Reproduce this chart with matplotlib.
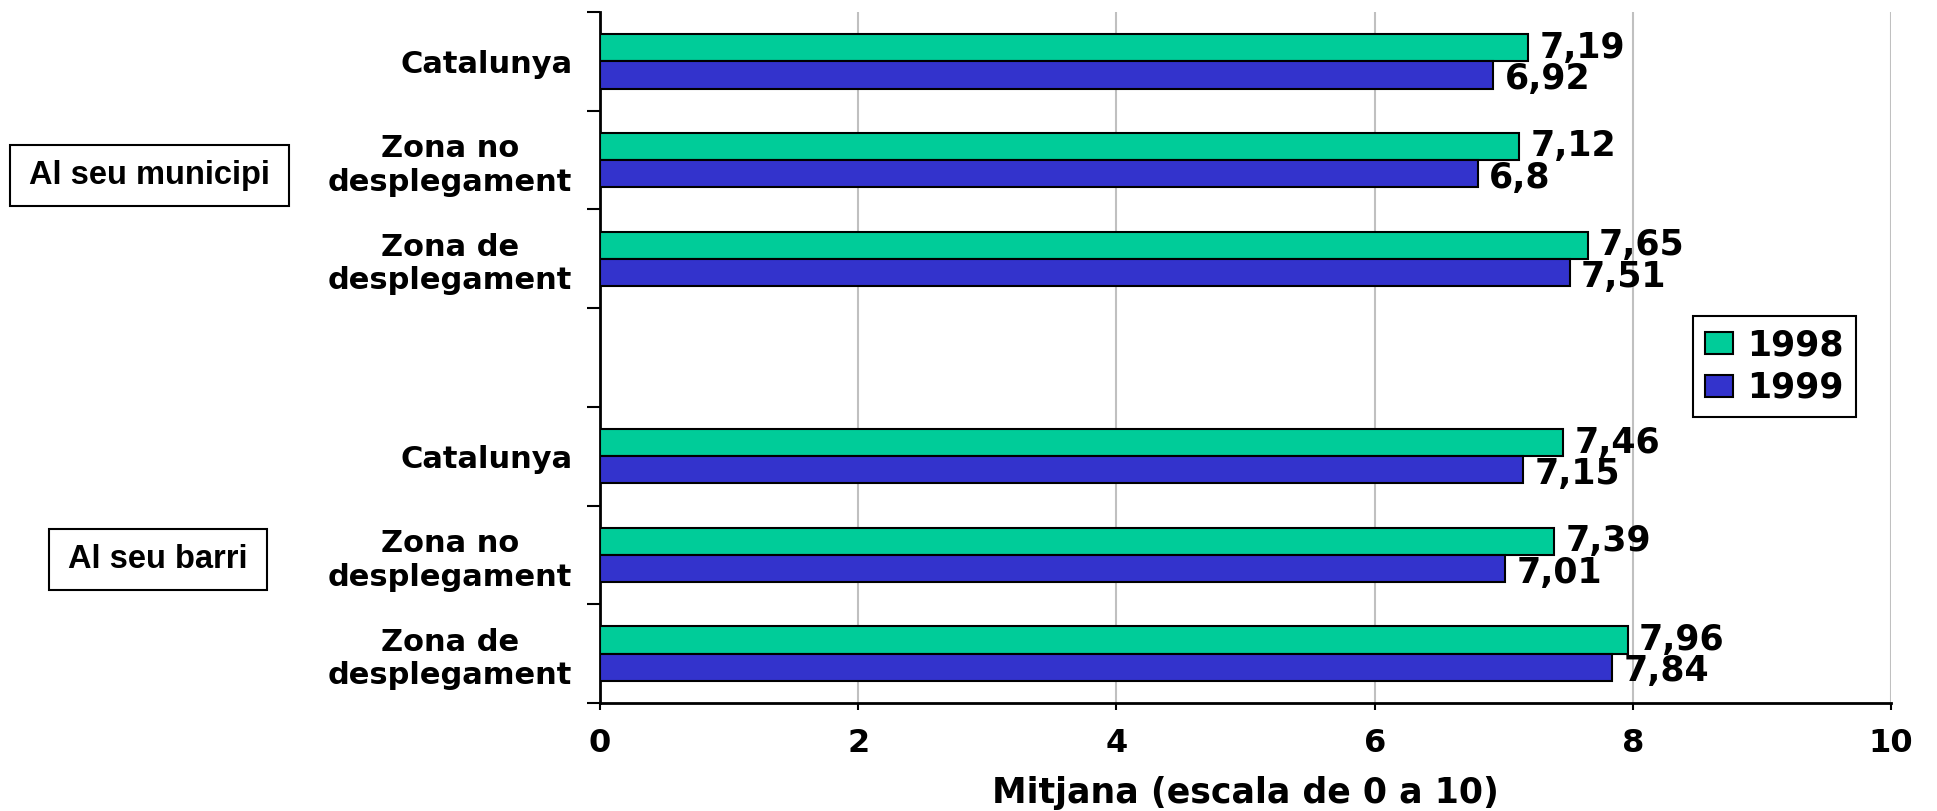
import matplotlib
matplotlib.use("Agg")
import matplotlib.pyplot as plt
from matplotlib.patches import Rectangle

# data
groups = ["Al seu municipi", "Al seu barri"]
categories = ["Catalunya", "Zona no\ndesplegament", "Zona de\ndesplegament"]
years = ["1998", "1999"]
municipi_1998 = [7.19, 7.12, 7.65]
municipi_1999 = [6.92, 6.8, 7.51]
barri_1998 = [7.46, 7.39, 7.96]
barri_1999 = [7.15, 7.01, 7.84]
xticks = [0, 2, 4, 6, 8, 10]

colors = ["#00CC99", "#3333CC"]
font = "DejaVu Sans"
plt.rcParams["font.family"] = [font]
plt.rcParams["font.weight"] = "bold"

fig = plt.figure(figsize=(19.37, 8.11), dpi=100)
ax = fig.add_axes([0.3098, 0.1332, 0.9763 - 0.3098, 0.9852 - 0.1332])

# slot centres: top group 6.5..4.5, empty slot 3.5, bottom group 2.5..0.5
slots = [6.5, 5.5, 4.5, 2.5, 1.5, 0.5]
vals98 = municipi_1998 + barri_1998
vals99 = municipi_1999 + barri_1999
labels = categories + categories
h = 0.275

def fmt(v):
    return f"{v:g}".replace(".", ",")

for i, (vals, off) in enumerate([(vals98, h / 2), (vals99, -h / 2)]):
    ys = [s + off for s in slots]
    ax.barh(ys, vals, height=h, color=colors[i], edgecolor="black",
            linewidth=1.5, label=years[i], zorder=3)
    for y, v in zip(ys, vals):
        ax.annotate(fmt(v), (v, y), xytext=(8, 0 if i == 0 else -3),
                    textcoords="offset points", va="center", ha="left",
                    fontsize=25, fontweight="bold", zorder=4)

ax.set_xlim(0, 10)
ax.set_ylim(0, 7)
ax.set_xticks(xticks)
ax.set_xticklabels([str(t) for t in xticks], fontsize=23, fontweight="bold")
ax.tick_params(axis="x", length=5, width=1.5, pad=13)

ax.set_yticks(range(8))
ax.set_yticklabels([])
ax.set_yticks(slots, minor=True)
ax.set_yticklabels(labels, minor=True, fontsize=22, fontweight="bold",
                   multialignment="center")
ax.tick_params(axis="y", which="major", length=9.5, width=1.5)
ax.tick_params(axis="y", which="minor", length=0, pad=20)

ax.xaxis.grid(True, color="#c0c0c0", linewidth=1.5, zorder=0)
ax.set_axisbelow(True)
for side in ["top", "right"]:
    ax.spines[side].set_visible(False)
for side in ["left", "bottom"]:
    ax.spines[side].set_linewidth(2)

ax.set_xlabel("Mitjana (escala de 0 a 10)", fontsize=25, fontweight="bold",
              labelpad=12)

leg = fig.legend(loc="center", bbox_to_anchor=(0.9160, 0.5481), fontsize=25,
                 handlelength=0.8, handleheight=0.6, handletextpad=0.4,
                 labelspacing=0.25, borderpad=0.35, borderaxespad=0,
                 fancybox=False, framealpha=1, edgecolor="black")
leg.get_frame().set_linewidth(1.5)
for t in leg.get_texts():
    t.set_fontweight("bold")

# group boxes on the left
boxes = [(10, 145, 289, 206), (49, 529, 267, 590)]
W, H = 1937, 811
for name, (x0, y0, x1, y1) in zip(groups, boxes):
    fig.patches.append(Rectangle((x0 / W, 1 - y1 / H), (x1 - x0) / W,
                                 (y1 - y0) / H, transform=fig.transFigure,
                                 facecolor="white", edgecolor="black",
                                 linewidth=1.5))
    fig.text((x0 + x1) / 2 / W, 1 - (y0 + y1) / 2 / H, name,
             family="Liberation Sans", fontsize=23.5, fontweight="bold",
             ha="center", va="center")

fig.savefig("out.png", dpi=100)
